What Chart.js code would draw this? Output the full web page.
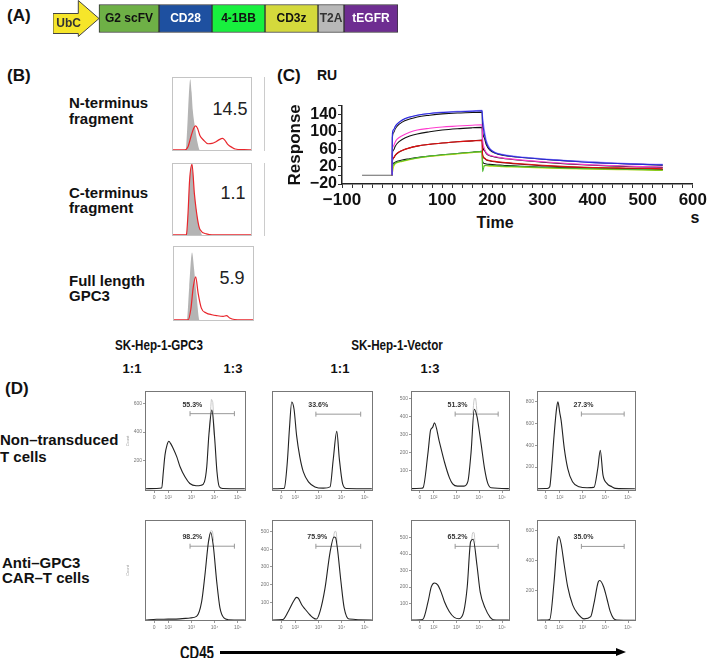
<!DOCTYPE html>
<html>
<head>
<meta charset="utf-8">
<script src="https://cdn.jsdelivr.net/npm/chart.js@4.4.1/dist/chart.umd.min.js"></script>
<style>
  body { margin: 0; background: #fff; width: 709px; height: 658px; position: relative; overflow: hidden;
         font-family: "Liberation Sans", Arial, Helvetica, sans-serif; color: #111; }
  canvas { position: absolute; }
  .t { position: absolute; font-weight: bold; white-space: nowrap; line-height: 1; }
  .c { transform: translate(-50%, -50%); }
  .n { font-weight: normal; }
</style>
</head>
<body>

<!-- panel letters and labels -->
<div class="t" style="left:7px;top:7px;font-size:17px">(A)</div>
<div class="t" style="left:7px;top:67px;font-size:17px">(B)</div>
<div class="t" style="left:277px;top:67px;font-size:17px">(C)</div>
<div class="t" style="left:317px;top:68px;font-size:14px">RU</div>
<div class="t" style="left:5px;top:380px;font-size:17px">(D)</div>

<div class="t" style="left:69px;top:95px;font-size:15px;line-height:16px">N-terminus<br>fragment</div>
<div class="t" style="left:69px;top:185px;font-size:15px;line-height:15px">C-terminus<br>fragment</div>
<div class="t" style="left:69px;top:273px;font-size:15px;line-height:15px">Full length<br>GPC3</div>
<div class="t c n" style="left:230px;top:109px;font-size:18px;color:#222">14.5</div>
<div class="t c n" style="left:233px;top:193px;font-size:18px;color:#222">1.1</div>
<div class="t c n" style="left:232px;top:278px;font-size:18px;color:#222">5.9</div>
<div style="position:absolute;left:264px;top:77px;width:1px;height:74px;background:#ccc"></div>
<div style="position:absolute;left:264px;top:163px;width:1px;height:73px;background:#ccc"></div>

<div class="t c" style="left:495px;top:223px;font-size:16px">Time</div>
<div class="t c" style="left:695px;top:218px;font-size:16px">s</div>

<div class="t c" style="left:159px;top:345px;font-size:14px;transform:translate(-50%,-50%) scaleX(0.83)">SK-Hep-1-GPC3</div>
<div class="t c" style="left:397px;top:345px;font-size:14px;transform:translate(-50%,-50%) scaleX(0.83)">SK-Hep-1-Vector</div>
<div class="t c" style="left:132px;top:368px;font-size:13px">1:1</div>
<div class="t c" style="left:233px;top:368px;font-size:13px">1:3</div>
<div class="t c" style="left:340px;top:368px;font-size:13px">1:1</div>
<div class="t c" style="left:430px;top:368px;font-size:13px">1:3</div>
<div class="t" style="left:0px;top:431px;font-size:15px;line-height:17px">Non–transduced<br>T cells</div>
<div class="t" style="left:2px;top:555px;font-size:15px;line-height:15px">Anti–GPC3<br>CAR–T cells</div>
<div class="t c" style="left:197px;top:652px;font-size:19px;transform:translate(-50%,-50%) scaleX(0.7)">CD45</div>
<div style="position:absolute;left:220px;top:651px;width:398px;height:3px;background:#000"></div>
<div style="position:absolute;left:616px;top:648px;width:0;height:0;border-top:4.5px solid transparent;border-bottom:4.5px solid transparent;border-left:10px solid #000"></div>

<script>
// ---------- (A) construct ----------
const parts = ['UbC', 'G2 scFV', 'CD28', '4-1BB', 'CD3z', 'T2A', 'tEGFR'];
const partLengths = [46, 60, 53, 53, 53, 26, 54];
const partColors = ['#f6e52a', '#6eb046', '#1e50a0', '#18f03e', '#d4d93c', '#b8b8b8', '#6e2d91'];
const partText = ['#333', '#111', '#fff', '#111', '#111', '#333', '#fff'];

// ---------- (B) binding histograms (channel 0-100, % of max) ----------
const nTermGrayX = [0, 17, 19, 21, 22.8, 24.5, 26, 29, 32, 35, 100];
const nTermGrayY = [0, 0, 30, 75, 98, 80, 55, 30, 10, 0, 0];
const nTermRedX = [0, 15.6, 20, 24, 27, 29.5, 32, 35, 39, 45, 50, 53.6, 58, 63.3, 66, 70, 75, 79, 90, 100];
const nTermRedY = [0.5, 0.5, 5, 20, 30, 33.6, 30, 20, 14.5, 9, 9.5, 11, 14, 16.4, 14, 7.7, 4, 1.8, 0.8, 0.5];
const cTermGrayX = [0, 18, 20, 22, 25, 28, 32, 35, 38, 100];
const cTermGrayY = [0, 0, 30, 77, 99, 58, 22, 8, 0, 0];
const cTermRedX = [0, 17, 18, 20, 22, 25, 28, 32, 35, 43, 50, 100];
const cTermRedY = [0.5, 0.5, 1, 30, 77, 99, 58, 22, 8, 2, 0.5, 0.5];
const fullGrayX = [0, 17, 20, 23.5, 26, 29, 33, 100];
const fullGrayY = [0, 0, 45, 92, 70, 35, 0, 0];
const fullRedX = [0, 18.6, 22, 25, 28, 31, 35, 41, 48, 54, 62, 66, 70, 76, 85, 100];
const fullRedY = [0.5, 0.5, 15, 45, 59, 37, 16.5, 10, 7.5, 6.3, 5.4, 6.3, 3.1, 1, 0.5, 0.5];

// ---------- (C) sensorgram ----------
const spTime = [-60, 0, 0.5, 3, 6, 10, 20, 35, 50, 75, 100, 130, 160, 179.5, 180.5, 184, 188, 195, 205, 220, 250, 300, 350, 400, 450, 500, 540];
const ruBlue =     [null, 0, 95, 105, 112, 118, 127, 134, 138, 142, 144, 146, 147, 148, 125, 95, 75, 60, 52, 47, 42, 37, 33, 29, 27, 25, 24];
const ruLavender = [null, 0, 90, 102, 110, 117, 126, 133, 138, 142, 145, 147, 148, 149, 135, 105, 80, 62, 53, 48, 43, 38, 34, 31, 28, 26, 25];
const ruMagenta =  [null, 0, 58, 68, 76, 83, 91, 99, 104, 108, 111, 113, 115, 116, 85, 62, 52, 46, 43, 40, 36, 31, 27, 24, 22, 20, 19];
const ruRed =      [null, 0, 33, 40, 46, 51, 57, 63, 67, 71, 74, 77, 79, 80, 48, 40, 36, 34, 32, 30, 27, 23, 20, 18, 17, 16, 15];
const ruGreen =    [null, 0, 18, 24, 28, 30, 33, 37, 40, 44, 47, 50, 53, 55, 8, 22, 23, 23, 22, 21, 20, 18, 16, 15, 14, 13, 12];
const ruYellow =   [null, 0, 5, 20, 26, 29, 32, 36, 39, 43, 46, 49, 52, 54, 20, 22, 22, 21, 21, 20, 19, 17, 15, 14, 13, 12, 11];
const fit1 = [null, 0, 86, 98, 106, 113, 122, 129, 134, 138, 141, 143, 144, 145, 104, 86, 70, 58, 51, 46, 42, 37, 33, 30, 27, 25, 23];
const fit2 = [null, 0, 50, 58, 66, 73, 82, 90, 95, 100, 104, 107, 109, 110, 68, 57, 50, 45, 42, 39, 35, 30, 26, 23, 21, 19, 18];
const fit3 = [null, 0, 32, 40, 45, 50, 57, 63, 67, 71, 74, 77, 79, 81, 46, 39, 35, 33, 31, 29, 26, 22, 19, 17, 16, 15, 14];
const fit4 = [null, 0, 24, 28, 30, 32, 35, 38, 41, 44, 47, 50, 53, 55, 32, 27, 26, 25, 24, 23, 21, 19, 17, 16, 15, 14, 13];
const baseTime = [-60, 0];
const baseRU = [0, 0];
const yLabelled = [-20, 20, 60, 100, 140];

// ---------- (D) CD45 histograms (x in decades, y = count) ----------
const flowTickVals = [1.39, 2, 3, 4, 5];
const flowTickText = ['0', '10²', '10³', '10⁴', '10⁵'];

const ntGpc3_11X = [1.02, 1.5, 1.72, 1.79, 1.86, 1.95, 2.03, 2.1, 2.2, 2.37, 2.51, 2.72, 2.93, 3.2, 3.42, 3.56, 3.66, 3.75, 3.88, 4.0, 4.1, 4.2, 4.35, 5.3];
const ntGpc3_11Y = [0, 2, 5, 120, 237, 310, 335, 320, 290, 225, 155, 84, 37, 21, 25, 49, 155, 377, 555, 357, 120, 14, 2, 0];
const ntGpc3_13X = [1.02, 1.45, 1.53, 1.66, 1.75, 1.85, 1.95, 2.06, 2.2, 2.35, 2.57, 2.85, 3.21, 3.5, 3.64, 3.79, 3.9, 4.04, 4.21, 5.3];
const ntGpc3_13Y = [0, 2, 5, 208, 464, 675, 618, 413, 246, 131, 54, 15, 5, 15, 233, 446, 233, 41, 2, 0];
const ntVec_11X = [1.02, 1.45, 1.53, 1.75, 1.86, 1.95, 2.03, 2.25, 2.47, 2.69, 2.83, 3.04, 3.33, 3.5, 3.64, 3.78, 3.9, 4.0, 4.09, 4.23, 4.37, 4.52, 5.3];
const ntVec_11Y = [0, 2, 5, 203, 325, 340, 365, 258, 148, 60, 27, 14, 14, 40, 203, 441, 400, 320, 240, 113, 31, 5, 0];
const ntVec_13X = [1.02, 1.45, 1.56, 1.63, 1.75, 1.86, 1.92, 2.0, 2.06, 2.2, 2.35, 2.56, 2.85, 3.2, 3.5, 3.67, 3.78, 3.9, 4.07, 4.29, 4.45, 5.3];
const ntVec_13Y = [0, 2, 18, 155, 490, 740, 800, 700, 630, 369, 186, 64, 18, 9, 12, 186, 353, 125, 49, 18, 3, 0];
const carGpc3_11X = [1.02, 1.5, 2.0, 2.5, 2.94, 3.22, 3.44, 3.58, 3.73, 3.83, 3.94, 4.09, 4.23, 4.4, 4.58, 5.3];
const carGpc3_11Y = [0, 5, 6, 8, 15, 27, 139, 338, 586, 661, 562, 288, 90, 15, 2, 0];
const carGpc3_13X = [1.02, 1.46, 1.7, 1.92, 2.05, 2.13, 2.28, 2.42, 2.64, 2.85, 2.92, 3.07, 3.28, 3.5, 3.67, 3.74, 3.82, 3.97, 4.11, 4.32, 5.3];
const carGpc3_13Y = [0, 2, 48, 104, 128, 123, 86, 62, 28, 6, 5, 48, 177, 383, 470, 465, 402, 216, 67, 5, 0];
const carVec_11X = [1.02, 1.45, 1.53, 1.75, 1.89, 2.03, 2.18, 2.32, 2.47, 2.68, 2.9, 3.11, 3.32, 3.47, 3.62, 3.73, 3.9, 4.04, 4.26, 4.48, 4.62, 5.3];
const carVec_11Y = [0, 2, 5, 111, 201, 225, 212, 171, 111, 52, 16, 8, 52, 200, 475, 490, 331, 171, 72, 16, 2, 0];
const carVec_13X = [1.02, 1.45, 1.56, 1.75, 1.89, 1.96, 2.06, 2.2, 2.35, 2.57, 2.78, 3.07, 3.36, 3.5, 3.69, 3.76, 3.93, 4.07, 4.22, 4.36, 4.5, 5.3];
const carVec_13Y = [0, 2, 5, 255, 519, 558, 508, 365, 222, 101, 46, 9, 24, 110, 255, 265, 222, 145, 57, 13, 2, 0];

// light-grey overlay tops (second histogram behind the black one)
const ntGpc3_11GX = [3.78, 3.86, 3.92, 3.98];  const ntGpc3_11GY = [400, 630, 610, 380];
const ntVec_11GX = [3.72, 3.78, 3.84, 3.9];    const ntVec_11GY = [420, 500, 500, 420];
const carGpc3_11GX = [3.76, 3.82, 3.9, 3.95];  const carGpc3_11GY = [600, 672, 672, 600];
const carGpc3_13GX = [3.64, 3.7, 3.76, 3.8];   const carGpc3_13GY = [460, 500, 500, 440];
const carVec_11GX = [3.66, 3.71, 3.77, 3.81];  const carVec_11GY = [480, 530, 530, 470];

const flowYMin = [-16, -17, -13, -21, -8, -6, -6, -5];
const flowYMax = [690, 760, 542, 900, 755, 566, 607, 668];
const flowYStep = [200, 200, 100, 200, 200, 100, 100, 200];
const gateFrom = [2.94, 2.89, 2.94, 2.95, 2.94, 2.89, 2.94, 2.95];
const gateTo = [4.85, 4.82, 4.83, 4.83, 4.85, 4.82, 4.83, 4.83];
const gateLevel = [530, 580, 414, 688, 557, 417, 447, 492];
const gateText = ['55.3%', '33.6%', '51.3%', '27.3%', '98.2%', '75.9%', '65.2%', '35.0%'];
const gateTextX = [3.04, 2.99, 3.04, 3.04, 3.04, 2.95, 3.04, 3.04];
const gateTextY = [593, 649, 463, 770, 624, 467, 501, 552];

// ---------- helpers ----------
Chart.defaults.font.family = '"Liberation Sans", Arial, Helvetica, sans-serif';
Chart.defaults.animation = false;
Chart.defaults.plugins.legend.display = false;
Chart.defaults.plugins.tooltip.enabled = false;

const pts = (xs, ys) => xs.map((x, i) => ({ x: x, y: ys[i] }));

function makeCanvas(left, top, w, h) {
  const c = document.createElement('canvas');
  c.width = w; c.height = h;
  c.style.left = left + 'px'; c.style.top = top + 'px';
  c.style.width = w + 'px'; c.style.height = h + 'px';
  document.body.appendChild(c);
  return c;
}

// box round the plot area
const framePlugin = {
  id: 'frame',
  afterDatasetsDraw(chart, args, opts) {
    if (!opts.color) return;
    const a = chart.chartArea, ctx = chart.ctx;
    ctx.save();
    ctx.strokeStyle = opts.color;
    ctx.lineWidth = 1;
    ctx.strokeRect(a.left + 0.5, a.top + 0.5, a.right - a.left - 1, a.bottom - a.top - 1);
    ctx.restore();
  }
};

// gate percentage text
const gatePlugin = {
  id: 'gate',
  afterDatasetsDraw(chart, args, opts) {
    if (!opts.text) return;
    const ctx = chart.ctx;
    ctx.save();
    ctx.font = 'bold 7px "Liberation Sans", Arial, sans-serif';
    ctx.fillStyle = '#333';
    ctx.textAlign = 'center';
    ctx.textBaseline = 'middle';
    ctx.fillText(opts.text, chart.scales.x.getPixelForValue(opts.x), chart.scales.y.getPixelForValue(opts.y));
    ctx.restore();
  }
};

// UbC arrow + segment names
const constructPlugin = {
  id: 'construct',
  afterDatasetsDraw(chart) {
    const ctx = chart.ctx;
    const arrow = chart.getDatasetMeta(0).data[0];
    const x0 = arrow.base, x1 = arrow.x, yc = arrow.y, h = arrow.height;
    const head = x0 + (x1 - x0) * 0.55;
    ctx.save();
    ctx.beginPath();
    ctx.moveTo(x0, yc - 5);
    ctx.lineTo(head, yc - 5);
    ctx.lineTo(head, yc - h / 2 - 4);
    ctx.lineTo(x1, yc);
    ctx.lineTo(head, yc + h / 2 + 4);
    ctx.lineTo(head, yc + 15);
    ctx.lineTo(x0, yc + 15);
    ctx.closePath();
    ctx.fillStyle = partColors[0];
    ctx.fill();
    ctx.strokeStyle = '#444';
    ctx.lineWidth = 1;
    ctx.stroke();

    ctx.font = 'bold 12px "Liberation Sans", Arial, sans-serif';
    ctx.textAlign = 'center';
    ctx.textBaseline = 'middle';
    parts.forEach((p, i) => {
      const el = chart.getDatasetMeta(i).data[0];
      ctx.fillStyle = partText[i];
      if (i === 0) ctx.fillText(p, (x0 + head) / 2 + 3, yc + 5);
      else ctx.fillText(p, (el.base + el.x) / 2, yc);
    });
    ctx.restore();
  }
};

// ---------- (A) ----------
new Chart(makeCanvas(53, 0, 346, 37), {
  type: 'bar',
  data: {
    labels: ['construct'],
    datasets: parts.map((p, i) => ({
      label: p,
      data: [partLengths[i]],
      backgroundColor: i === 0 ? 'rgba(0,0,0,0)' : partColors[i],
      borderColor: '#333',
      borderWidth: i === 0 ? 0 : 1,
      borderSkipped: false,
      barThickness: 28
    }))
  },
  options: {
    responsive: false, indexAxis: 'y',
    layout: { padding: { left: 0, right: 1, top: 0, bottom: 0 } },
    scales: {
      x: { stacked: true, display: false, min: 0, max: partLengths.reduce((a, b) => a + b, 0) },
      y: { stacked: true, display: false }
    }
  },
  plugins: [constructPlugin]
});

// ---------- (B) ----------
// note: Chart.js paints dataset 0 last, i.e. on top
const bBoxes = [[172, 77, 80, 74], [172, 163, 80, 73], [173, 246, 81, 75]];
const bSets = [
  [nTermGrayX, nTermGrayY, nTermRedX, nTermRedY],
  [cTermGrayX, cTermGrayY, cTermRedX, cTermRedY],
  [fullGrayX, fullGrayY, fullRedX, fullRedY]
];
bSets.forEach((s, i) => {
  const b = bBoxes[i];
  new Chart(makeCanvas(b[0], b[1], b[2], b[3]), {
    type: 'line',
    data: {
      datasets: [
        { data: pts(s[2], s[3]), borderWidth: 1.2, borderColor: '#e8262c', fill: false, pointRadius: 0, cubicInterpolationMode: 'monotone' },
        { data: pts(s[0], s[1]), borderWidth: 0, borderColor: 'rgba(0,0,0,0)', backgroundColor: '#b4b4b4', fill: 'origin', pointRadius: 0, cubicInterpolationMode: 'monotone' }
      ]
    },
    options: {
      responsive: false,
      layout: { padding: 0 },
      scales: {
        x: { type: 'linear', min: 0, max: 100, display: false },
        y: { min: -1, max: 101, display: false }
      },
      plugins: { frame: { color: '#c4c4c4' } }
    },
    plugins: [framePlugin]
  });
});

// ---------- (C) ----------
const spSeries = [
  [ruBlue, '#2a2ad8'], [ruLavender, '#9a8cff'], [ruMagenta, '#ff3ccf'],
  [ruRed, '#dd1010'], [ruGreen, '#4cba30'], [ruYellow, '#c8dc10'],
  [fit1, '#111'], [fit2, '#111'], [fit3, '#5a0a0a'], [fit4, '#111']
];
const signed = v => (v < 0 ? '−' + Math.abs(v) : String(v));
const spSets = [{ data: pts(baseTime, baseRU), borderColor: '#666', borderWidth: 1.1, pointRadius: 0 }]
  .concat(spSeries.map(s => ({
    data: pts(spTime, s[0]), borderColor: s[1], borderWidth: 1.1,
    pointRadius: 0, fill: false, cubicInterpolationMode: 'monotone'
  })));
new Chart(makeCanvas(270, 95, 439, 145), {
  type: 'line',
  data: { datasets: spSets },
  options: {
    responsive: false,
    layout: { padding: { left: 0, top: 10, right: 12, bottom: 0 } },
    scales: {
      x: {
        type: 'linear', min: -100, max: 600,
        ticks: { stepSize: 20, autoSkip: false, maxRotation: 0, padding: 2, color: '#111',
                 font: { size: 17, weight: 'bold' },
                 callback: v => (v % 100 === 0 ? signed(v) : '') },
        grid: { display: true, drawOnChartArea: false, tickLength: 4, color: '#333' },
        border: { display: true, color: '#222', width: 1.5 },
        afterFit: s => { s.height = 56; }
      },
      y: {
        min: -20, max: 160,
        ticks: { stepSize: 20, autoSkip: false, padding: 1, color: '#111',
                 font: { size: 16, weight: 'bold' },
                 callback: v => (yLabelled.includes(v) ? signed(v) : '') },
        grid: { display: true, drawOnChartArea: false, tickLength: 4, color: '#333' },
        border: { display: true, color: '#222', width: 1.5 },
        title: { display: true, text: 'Response', color: '#111', font: { size: 17, weight: 'bold' }, padding: { top: 15, bottom: 0 } },
        afterFit: s => { s.width = 72; }
      }
    }
  }
});

// ---------- (D) ----------
const flowX = [ntGpc3_11X, ntGpc3_13X, ntVec_11X, ntVec_13X, carGpc3_11X, carGpc3_13X, carVec_11X, carVec_13X];
const flowY = [ntGpc3_11Y, ntGpc3_13Y, ntVec_11Y, ntVec_13Y, carGpc3_11Y, carGpc3_13Y, carVec_11Y, carVec_13Y];
const greyX = [ntGpc3_11GX, null, ntVec_11GX, null, carGpc3_11GX, carGpc3_13GX, carVec_11GX, null];
const greyY = [ntGpc3_11GY, null, ntVec_11GY, null, carGpc3_11GY, carGpc3_13GY, carVec_11GY, null];

const colLeft = [145, 272, 411, 537];
const colWidth = [101, 101, 99, 99];
const rowTop = [390, 519];
const rowHeight = [101, 102];

flowX.forEach((xs, i) => {
  const c = i % 4, r = Math.floor(i / 4);
  const L = colLeft[c], T = rowTop[r], W = colWidth[c], H = rowHeight[r];
  const sets = [
    { data: pts(xs, flowY[i]), borderColor: '#222', borderWidth: 1.1, pointRadius: 0, cubicInterpolationMode: 'monotone' },
    { data: [{ x: gateFrom[i], y: gateLevel[i] }, { x: gateTo[i], y: gateLevel[i] }],
      borderColor: '#999', borderWidth: 1, pointStyle: 'line', rotation: 90, pointRadius: 2.5,
      pointBorderColor: '#999', pointBorderWidth: 1 }
  ];
  if (greyX[i]) sets.push({ data: pts(greyX[i], greyY[i]), borderColor: '#c8c8c8', borderWidth: 1, pointRadius: 0, tension: 0.3 });
  const step = flowYStep[i];
  new Chart(makeCanvas(L - 20, T - 4, W + 28, H + 20), {
    type: 'line',
    data: { datasets: sets },
    options: {
      responsive: false,
      layout: { padding: { left: 0, top: 4, right: 8, bottom: 0 } },
      scales: {
        x: {
          type: 'linear', min: 1.0, max: 5.35,
          afterBuildTicks: s => { s.ticks = flowTickVals.map(v => ({ value: v })); },
          ticks: { autoSkip: false, maxRotation: 0, padding: 2, color: '#777', font: { size: 5 },
                   callback: (v, k) => flowTickText[k] },
          grid: { display: true, drawOnChartArea: false, tickLength: 2, color: '#999' },
          border: { display: false },
          afterFit: s => { s.height = 16; }
        },
        y: {
          min: flowYMin[i], max: flowYMax[i],
          afterBuildTicks: s => { s.ticks = s.ticks.filter(t => t.value >= 0 && t.value % step === 0); },
          ticks: { stepSize: step, autoSkip: false, padding: 1, color: '#777', font: { size: 5 } },
          grid: { display: true, drawOnChartArea: false, tickLength: 2, color: '#999' },
          border: { display: false },
          title: { display: c === 0, text: 'Count', color: '#999', font: { size: 4 }, padding: { top: 0, bottom: 0 } },
          afterFit: s => { s.width = 20; }
        }
      },
      plugins: {
        frame: { color: '#777' },
        gate: { text: gateText[i], x: gateTextX[i], y: gateTextY[i] }
      }
    },
    plugins: [framePlugin, gatePlugin]
  });
});
</script>
</body>
</html>
